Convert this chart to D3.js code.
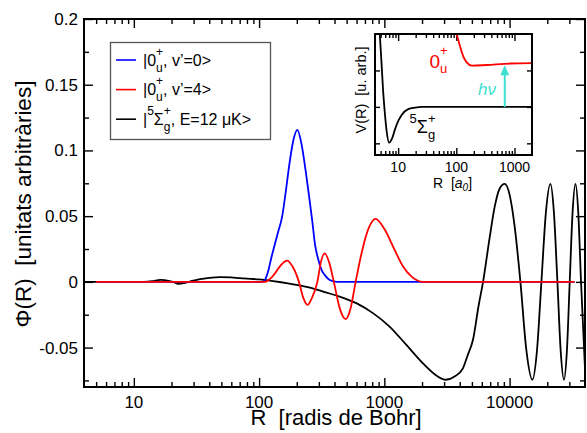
<!DOCTYPE html>
<html lang="ca">
<head>
<meta charset="utf-8">
<title>Phi(R)</title>
<script src="https://d3js.org/d3.v7.min.js"></script>
<style>
  body { margin: 0; background: #fff; }
  text { font-family: "Liberation Sans", Arial, sans-serif; white-space: pre; }
</style>
</head>
<body>
<script>
var w = 587, h = 433;

// main chart data, R in Bohr radii, Phi arbitrary units
var xTicks = [10, 100, 1000, 10000];
var xTickLabels = ["10", "100", "1000", "10000"];
var yTicks = [-0.05, 0, 0.05, 0.1, 0.15, 0.2];
var yTickLabels = ["-0.05", "0", "0.05", "0.1", "0.15", "0.2"];
var yMinor = [-0.075, -0.025, 0.025, 0.075, 0.125, 0.175];

var blackR = [4, 12, 14, 16.3, 19, 20.5, 22.7, 25, 27.4, 33, 40, 49, 60, 70, 85, 100, 114, 150, 198, 260, 324, 440, 597, 811, 1101, 1500, 2034, 2600, 3090, 3640, 4250, 4620, 5100, 5660, 6140, 6940, 7600, 8340, 9140, 10020, 10980, 12200, 13610, 15200, 16520, 17950, 19500, 21180, 22580, 24090, 25600, 27180, 28660, 30200, 31840, 33560, 35330, 37190, 40000];
var blackPhi = [0, 0, 0.0005, 0.0015, 0.0008, 0, -0.0015, -0.001, 0, 0.0018, 0.003, 0.0036, 0.0034, 0.0028, 0.0023, 0.0019, 0.0013, -0.0003, -0.0023, -0.0045, -0.0074, -0.0112, -0.0162, -0.0238, -0.034, -0.048, -0.062, -0.0712, -0.0745, -0.072, -0.0656, -0.056, -0.0441, -0.018, 0, 0.034, 0.057, 0.071, 0.0745, 0.066, 0.042, 0, -0.052, -0.0745, -0.053, 0, 0.053, 0.0745, 0.053, 0, -0.053, -0.0745, -0.053, 0, 0.053, 0.0745, 0.053, 0, -0.066];

var blueR = [5, 104, 107, 111, 118, 125, 133, 141, 153, 163, 173, 187, 202, 218, 235, 250, 266, 280, 295, 316, 334, 359, 390, 414, 33000];
var bluePhi = [0, 0, 0, 0.0013, 0.0078, 0.018, 0.028, 0.037, 0.05, 0.068, 0.087, 0.107, 0.1156, 0.105, 0.085, 0.066, 0.046, 0.028, 0.018, 0.009, 0.0053, 0.002, 0.0005, 0, 0];

var redR = [5, 108, 111, 125, 137, 150, 168, 184, 208, 225, 244, 262, 292, 312, 334, 362, 395, 440, 491, 538, 590, 667, 751, 851, 1004, 1208, 1410, 1652, 2040, 33000];
var redPhi = [0, 0, 0, 0.003, 0.0078, 0.013, 0.0162, 0.012, 0, -0.012, -0.0175, -0.013, 0, 0.0154, 0.0216, 0.015, 0, -0.020, -0.0284, -0.020, 0, 0.0243, 0.041, 0.0479, 0.040, 0.0243, 0.0117, 0.004, 0, 0];

// inset potentials
var insetXTicks = [10, 100, 1000];
var insetXTickLabels = ["10", "100", "1000"];
var insetYTicks = [-1, 0, 1];
var insetBlackR = [4.83, 5.18, 5.5, 5.9, 6.3, 7.0, 7.8, 8.77, 10.1, 11.5, 14.9, 19.4, 25, 2000];
var insetBlackV = [2.0, 1.2, 0.47, -0.16, -0.63, -0.98, -0.88, -0.63, -0.38, -0.22, -0.06, -0.02, 0, 0];
var insetRedR = [101.6, 116, 132, 151, 185, 333, 843, 2000];
var insetRedV = [2.0, 1.66, 1.38, 1.22, 1.13, 1.15, 1.19, 1.2];
var arrowR = 680, arrowTop = 1.14;

var x = d3.scaleLog().domain([4, 40000]).range([84, 585]);
var y = d3.scaleLinear().domain([-0.08, 0.2]).range([387, 19]);

var svg = d3.select("body").append("svg")
    .attr("width", w).attr("height", h);

function minorLog(lo, hi) {
  var out = [];
  for (var d = 1; d <= 10000; d *= 10)
    for (var k = 2; k <= 9; k++) {
      var v = k * d;
      if (v > lo && v < hi) out.push(v);
    }
  return out;
}
function noDomain(g) { g.select(".domain").remove(); }

var defs = svg.append("defs");
defs.append("clipPath").attr("id", "clip")
  .append("rect").attr("x", 84).attr("y", 19).attr("width", 501).attr("height", 368);

// ticks (all inward), labels drawn separately
var xMinor = minorLog(4, 40000);
function tickStyle(g) {
  g.selectAll("line").attr("stroke", "#000").attr("stroke-width", 1.4);
}
function ticks(sel, axis, tx, ty, vals, size) {
  sel.append("g").attr("transform", "translate(" + tx + "," + ty + ")")
    .call(axis.tickValues(vals).tickSize(-size).tickFormat(""))
    .call(noDomain).call(tickStyle);
}
ticks(svg, d3.axisBottom(x), 0, 387, xTicks, 9);
ticks(svg, d3.axisBottom(x), 0, 387, xMinor, 5);
ticks(svg, d3.axisTop(x), 0, 19, xTicks, 9);
ticks(svg, d3.axisTop(x), 0, 19, xMinor, 5);
ticks(svg, d3.axisLeft(y), 84, 0, yTicks, 9);
ticks(svg, d3.axisLeft(y), 84, 0, yMinor, 5);
ticks(svg, d3.axisRight(y), 585, 0, yTicks, 9);
ticks(svg, d3.axisRight(y), 585, 0, yMinor, 5);

svg.append("g").selectAll("text").data(xTicks).join("text")
  .attr("x", function (d) { return x(d); }).attr("y", 407.5)
  .attr("text-anchor", "middle").attr("font-size", 17)
  .text(function (d, i) { return xTickLabels[i]; });
svg.append("g").selectAll("text").data(yTicks).join("text")
  .attr("x", 78).attr("y", function (d) { return y(d) + 6; })
  .attr("text-anchor", "end").attr("font-size", 17)
  .text(function (d, i) { return yTickLabels[i]; });

// curves
var line = d3.line()
  .x(function (d) { return x(d[0]); })
  .y(function (d) { return y(d[1]); })
  .curve(d3.curveMonotoneX);
var plot = svg.append("g").attr("clip-path", "url(#clip)");
[[blackR, blackPhi, "#000"], [blueR, bluePhi, "#0000ff"], [redR, redPhi, "#ff0000"]]
  .forEach(function (s) {
    plot.append("path").datum(d3.zip(s[0], s[1]))
      .attr("d", line).attr("fill", "none")
      .attr("stroke", s[2]).attr("stroke-width", 1.8);
  });

svg.append("rect").attr("x", 84).attr("y", 19).attr("width", 501).attr("height", 368)
  .attr("fill", "none").attr("stroke", "#000").attr("stroke-width", 2);

// axis titles
svg.append("text").attr("x", 336).attr("y", 425).attr("text-anchor", "middle")
  .attr("font-size", 22).text("R  [radis de Bohr]");
svg.append("text").attr("transform", "translate(31,204) rotate(-90)")
  .attr("text-anchor", "middle").attr("font-size", 22.5)
  .text("\u03A6(R)  [unitats arbitr\u00E0ries]");

// rich text: plain runs, superscripts and stacked sup/sub
function rich(g, x0, y0, parts, size, color, opt) {
  var cx = x0;
  parts.forEach(function (p) {
    var wmax = 0;
    if (p.t !== undefined) {
      var t = g.append("text").attr("x", cx).attr("y", y0).attr("font-size", size)
        .attr("fill", color).text(p.t);
      if (p.italic) t.attr("font-style", "italic");
      wmax = t.node().getComputedTextLength();
    }
    if (p.sup !== undefined) {
      var a = g.append("text").attr("x", cx).attr("y", y0 - opt.up).attr("font-size", opt.small)
        .attr("fill", color).text(p.sup);
      wmax = Math.max(wmax, a.node().getComputedTextLength());
    }
    if (p.sub !== undefined) {
      var b = g.append("text").attr("x", cx).attr("y", y0 + opt.down).attr("font-size", opt.small)
        .attr("fill", color).text(p.sub);
      if (p.italic) b.attr("font-style", "italic");
      wmax = Math.max(wmax, b.node().getComputedTextLength());
    }
    cx += wmax + (p.gap || 0);
  });
}

// legend
var legendColors = ["#0000ff", "#ff0000", "#000"];
var legendLabels = [
  [{t: "|0"}, {sup: "+", sub: "u"}, {t: ", v\u2019=0>"}],
  [{t: "|0"}, {sup: "+", sub: "u"}, {t: ", v\u2019=4>"}],
  [{t: "|"}, {sup: "5"}, {t: "\u03A3"}, {sup: "+", sub: "g"}, {t: ", E=12 \u03BCK>"}]
];
var leg = svg.append("g");
leg.append("rect").attr("x", 110.5).attr("y", 42.5).attr("width", 160).attr("height", 97)
  .attr("fill", "#fff").attr("stroke", "#555").attr("stroke-width", 1.3);
legendLabels.forEach(function (lab, i) {
  var ly = 60 + i * 29.6;
  leg.append("line").attr("x1", 116).attr("x2", 136).attr("y1", ly).attr("y2", ly)
    .attr("stroke", legendColors[i]).attr("stroke-width", 1.6);
  rich(leg, 143, ly + 5.8, lab, 16, "#000", {up: 10, down: 6, small: 12});
});

// inset
var xi = d3.scaleLog().domain([4, 2000]).range([375, 532]);
var yi = d3.scaleLinear().domain([-1.32, 2]).range([155, 34]);
var ins = svg.append("g");
ins.append("rect").attr("x", 375).attr("y", 34).attr("width", 157).attr("height", 121)
  .attr("fill", "#fff");
defs.append("clipPath").attr("id", "clipi")
  .append("rect").attr("x", 375).attr("y", 34).attr("width", 157).attr("height", 121);

var xiMinor = minorLog(4, 2000);
ticks(ins, d3.axisBottom(xi), 0, 155, insetXTicks, 7);
ticks(ins, d3.axisBottom(xi), 0, 155, xiMinor, 4);
ticks(ins, d3.axisTop(xi), 0, 34, insetXTicks, 7);
ticks(ins, d3.axisTop(xi), 0, 34, xiMinor, 4);
ticks(ins, d3.axisLeft(yi), 375, 0, insetYTicks, 5);
ticks(ins, d3.axisRight(yi), 532, 0, insetYTicks, 5);
ins.append("g").selectAll("text").data(insetXTicks).join("text")
  .attr("x", function (d) { return xi(d); }).attr("y", 171.5)
  .attr("text-anchor", "middle").attr("font-size", 14)
  .text(function (d, i) { return insetXTickLabels[i]; });

var linei = d3.line()
  .x(function (d) { return xi(d[0]); })
  .y(function (d) { return yi(d[1]); })
  .curve(d3.curveMonotoneX);
var ip = ins.append("g").attr("clip-path", "url(#clipi)");
ip.append("path").datum(d3.zip(insetBlackR, insetBlackV)).attr("d", linei)
  .attr("fill", "none").attr("stroke", "#000").attr("stroke-width", 1.8);
ip.append("path").datum(d3.zip(insetRedR, insetRedV)).attr("d", linei)
  .attr("fill", "none").attr("stroke", "#ff0000").attr("stroke-width", 1.8);

// photon arrow
var cyan = "#40e0d0";
var ax = xi(arrowR), at = yi(arrowTop);
ins.append("line").attr("x1", ax).attr("x2", ax).attr("y1", yi(0)).attr("y2", at + 8)
  .attr("stroke", cyan).attr("stroke-width", 2);
ins.append("path").attr("d", "M" + ax + "," + at + " l4.5,10 l-9,0 z").attr("fill", cyan);
ins.append("text").attr("x", 478).attr("y", 95).attr("font-size", 17)
  .attr("font-style", "italic").attr("fill", cyan).text("h\u03BD");

ins.append("rect").attr("x", 375).attr("y", 34).attr("width", 157).attr("height", 121)
  .attr("fill", "none").attr("stroke", "#000").attr("stroke-width", 2);

// inset labels
rich(ins, 429.5, 68.3, [{t: "0"}, {sup: "+", sub: "u"}], 19, "#ff0000", {up: 13, down: 5, small: 13});
rich(ins, 409.5, 133.3, [{sup: "5"}, {t: "\u03A3"}, {sup: "+", sub: "g"}], 18, "#000", {up: 10.5, down: 6, small: 13});
ins.append("text").attr("transform", "translate(366,90) rotate(-90)")
  .attr("text-anchor", "middle").attr("font-size", 14.5).text("V(R)  [u. arb.]");
rich(ins, 433, 188, [{t: "R  ["}, {t: "a", italic: true}, {sub: "0", italic: true}, {t: "]"}], 14, "#000", {up: 0, down: 3, small: 10});
</script>
</body>
</html>
